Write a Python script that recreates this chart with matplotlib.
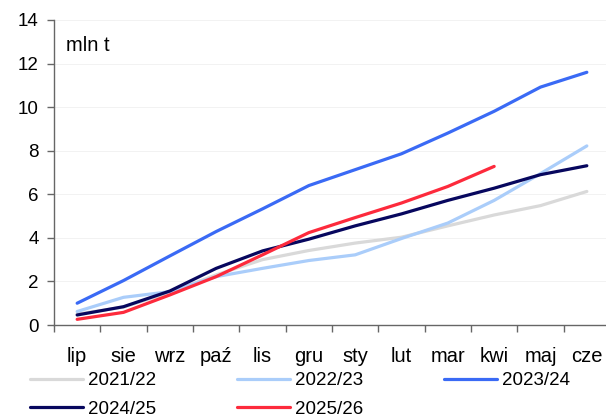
import matplotlib
matplotlib.use("Agg")
import matplotlib.pyplot as plt

plt.rcParams['font.family'] = ['Liberation Sans', 'DejaVu Sans']

months = ['lip', 'sie', 'wrz', 'paź', 'lis', 'gru', 'sty', 'lut', 'mar', 'kwi', 'maj', 'cze']

s2021 = [0.50, 0.82, 1.50, 2.30, 3.00, 3.42, 3.76, 4.03, 4.55, 5.05, 5.48, 6.13]
s2022 = [0.62, 1.27, 1.53, 2.22, 2.60, 2.96, 3.22, 3.97, 4.68, 5.72, 6.95, 8.22]
s2023 = [1.00, 2.04, 3.17, 4.29, 5.33, 6.40, 7.13, 7.86, 8.81, 9.81, 10.92, 11.60]
s2024 = [0.46, 0.84, 1.56, 2.60, 3.40, 3.94, 4.55, 5.10, 5.72, 6.28, 6.90, 7.31]
s2025 = [0.26, 0.58, 1.38, 2.22, 3.22, 4.24, 4.93, 5.60, 6.36, 7.28]

series = [
    ('2021/22', s2021, '#d9d9d9'),
    ('2022/23', s2022, '#aacdfa'),
    ('2023/24', s2023, '#3a6af5'),
    ('2024/25', s2024, '#07075e'),
    ('2025/26', s2025, '#fd2a3c'),
]

fig = plt.figure(figsize=(6.06, 4.19), dpi=100)
ax = fig.add_axes([54 / 606, 1 - 325 / 419, 556 / 606, 305 / 419])

x = list(range(len(months)))
for label, vals, color in series:
    ax.plot(x[:len(vals)], vals, color=color, lw=2.3, label=label,
            solid_capstyle='round', solid_joinstyle='round')

ax.set_ylim(0, 14)
ax.set_yticks(range(0, 15, 2))
ax.set_xlim(-0.5, 11.5)
ax.set_xticks([i - 0.5 for i in range(13)])
ax.set_xticklabels([])
ax.set_xticks(x, minor=True)
ax.set_xticklabels(months, minor=True)
ax.tick_params(axis='x', which='minor', length=0, pad=16, labelsize=14.5)
ax.tick_params(axis='x', which='major', length=5, width=1, color='#666666')
ax.tick_params(axis='y', length=5, width=1, color='#666666', labelsize=13.5, pad=6)

ax.grid(axis='y', color='#f0f0f0', lw=0.6)
ax.set_axisbelow(True)
for side in ['top', 'right']:
    ax.spines[side].set_visible(False)
for side in ['left', 'bottom']:
    ax.spines[side].set_color('#666666')
    ax.spines[side].set_linewidth(1)

ax.text(0.022, 0.915, 'mln t', transform=ax.transAxes, fontsize=14.5, va='center')

# legend is filled column by column, so reorder to get row-major layout
handles, labels = ax.get_legend_handles_labels()
order = [0, 3, 1, 4, 2]
fig.legend([handles[i] for i in order], [labels[i] for i in order],
           ncol=3, loc='upper left', bbox_to_anchor=(0.05, 0.112),
           frameon=False, fontsize=13.5, handlelength=2.8, handletextpad=0.3,
           columnspacing=4.3, labelspacing=0.6, borderaxespad=0, borderpad=0)

fig.savefig('out.png', dpi=100)
